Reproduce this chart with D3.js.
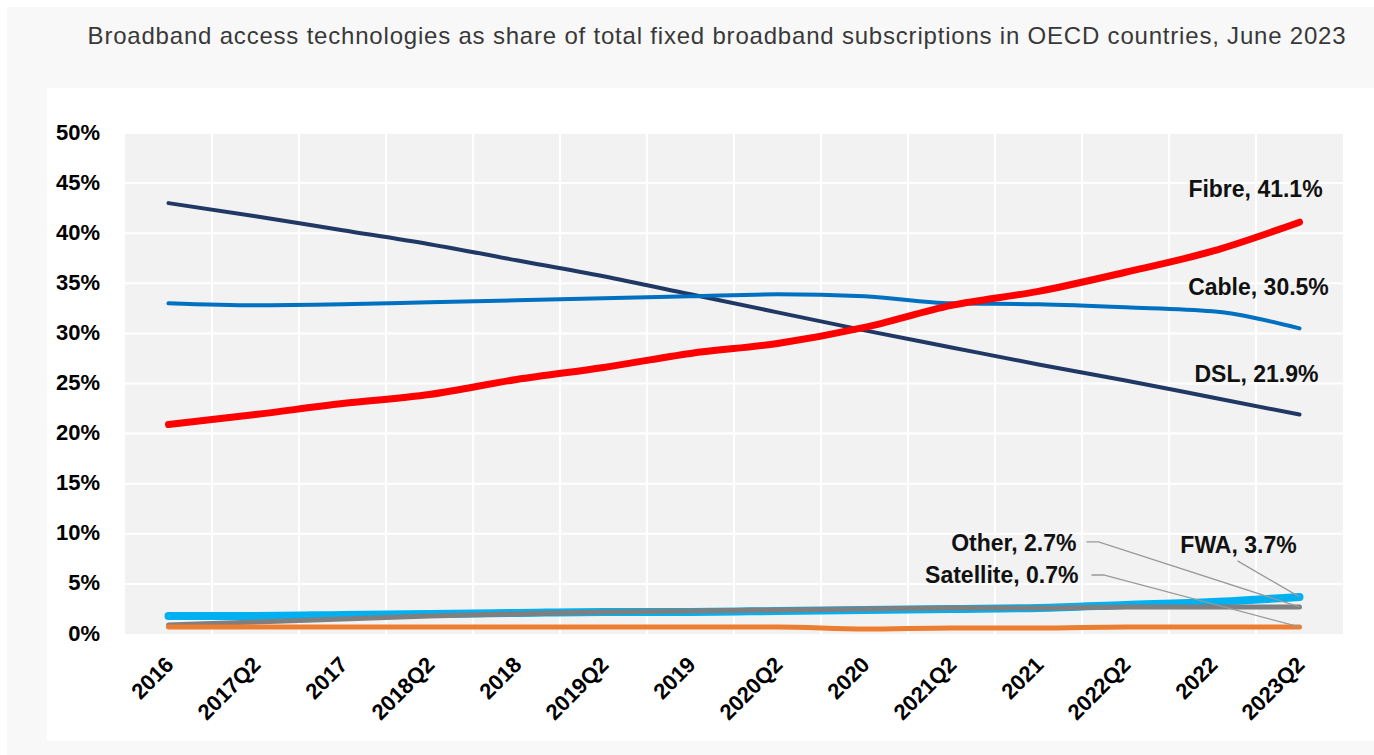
<!DOCTYPE html>
<html lang="en">
  <head>
    <meta charset="UTF-8" />
    <title>Broadband access technologies</title>
    <script src="https://cdn.jsdelivr.net/npm/d3@7"></script>
    <style>
      html, body { margin: 0; padding: 0; background: #fff; }
      #svgBox { display: block; }
    </style>
  </head>
  <body>
    <svg id="svgBox" width="1374" height="755"></svg>
  </body>
  <script>
    const categories = ['2016', '2017Q2', '2017', '2018Q2', '2018', '2019Q2', '2019',
      '2020Q2', '2020', '2021Q2', '2021', '2022Q2', '2022', '2023Q2']
    const dsl = [43.0, 41.7, 40.3, 38.9, 37.3, 35.7, 33.9, 32.1, 30.3, 28.6, 26.9, 25.3, 23.6, 21.9]
    const cable = [33.0, 32.8, 32.9, 33.1, 33.3, 33.5, 33.7, 33.9, 33.7, 33.0, 32.9, 32.6, 32.2, 30.5]
    const fibre = [20.9, 21.9, 23.0, 23.9, 25.4, 26.6, 28.0, 29.0, 30.6, 32.8, 34.2, 36.1, 38.2, 41.1]
    const fwa = [1.8, 1.8, 1.9, 2.0, 2.1, 2.2, 2.2, 2.3, 2.4, 2.5, 2.6, 2.9, 3.2, 3.7]
    const other = [0.9, 1.2, 1.5, 1.8, 2.0, 2.2, 2.3, 2.4, 2.5, 2.6, 2.6, 2.7, 2.7, 2.7]
    const satellite = [0.7, 0.7, 0.7, 0.7, 0.7, 0.7, 0.7, 0.7, 0.5, 0.6, 0.6, 0.7, 0.7, 0.7]
    const yTicks = [0, 5, 10, 15, 20, 25, 30, 35, 40, 45, 50]

    const series = [
      { name: 'DSL', values: dsl, color: '#203864', width: 4 },
      { name: 'Cable', values: cable, color: '#0070c0', width: 4 },
      { name: 'FWA', values: fwa, color: '#00b0f0', width: 8 },
      { name: 'Other', values: other, color: '#7f7f7f', width: 5 },
      { name: 'Satellite', values: satellite, color: '#ed7d31', width: 5 },
      { name: 'Fibre', values: fibre, color: '#ff0000', width: 7 }
    ]

    const svg = d3.select('#svgBox')
    const font = "'Liberation Sans', Arial, sans-serif"
    const margin = { top: 133, right: 31, bottom: 121, left: 125 }
    const [width, height] = [1374, 755]
    const innerWidth = width - margin.left - margin.right
    const innerHeight = height - margin.top - margin.bottom

    // backgrounds
    svg.append('rect').attr('x', 7).attr('y', 7).attr('width', width - 7).attr('height', height - 7)
      .attr('fill', '#f8f8f8')
    svg.append('rect').attr('x', 47).attr('y', 88).attr('width', width - 47).attr('height', 653)
      .attr('fill', '#fff')

    svg.append('text')
      .attr('x', 717).attr('y', 44)
      .attr('text-anchor', 'middle')
      .attr('font-family', font).attr('font-size', 24).attr('letter-spacing', 0.8)
      .attr('fill', '#383838')
      .text('Broadband access technologies as share of total fixed broadband subscriptions in OECD countries, June 2023')

    const xScale = d3.scalePoint().domain(categories).range([0, innerWidth]).padding(0.5)
    const yScale = d3.scaleLinear().domain([0, 50]).range([innerHeight, 0])

    const g = svg.append('g').attr('transform', `translate(${margin.left} ${margin.top})`)

    g.append('rect').attr('width', innerWidth).attr('height', innerHeight).attr('fill', '#f2f2f2')

    // grid
    g.append('g').selectAll('line').data(yTicks.slice(1)).join('line')
      .attr('x1', 0).attr('x2', innerWidth)
      .attr('y1', d => yScale(d)).attr('y2', d => yScale(d))
      .attr('stroke', '#fff').attr('stroke-width', 2)
    g.append('g').selectAll('line').data(categories.slice(1)).join('line')
      .attr('x1', d => xScale(d) - xScale.step() / 2).attr('x2', d => xScale(d) - xScale.step() / 2)
      .attr('y1', 0).attr('y2', innerHeight)
      .attr('stroke', '#fff').attr('stroke-width', 2)

    // y axis
    const yAxis = d3.axisLeft(yScale).tickValues(yTicks).tickSize(0).tickPadding(25)
      .tickFormat(d => d + '%')
    g.append('g').call(yAxis)
      .attr('font-family', font).attr('font-size', 22).attr('font-weight', 'bold')
      .call(s => s.select('.domain').remove())
      .call(s => s.selectAll('.tick line').remove())
      .selectAll('text')
      .attr('dy', 6)
      .attr('fill', '#000')

    // x axis
    const xAxis = d3.axisBottom(xScale).tickSize(0)
    g.append('g').attr('transform', `translate(0 ${innerHeight})`).call(xAxis)
      .attr('font-family', font).attr('font-size', 22).attr('font-weight', 'bold')
      .call(s => s.select('.domain').remove())
      .call(s => s.selectAll('.tick line').remove())
      .selectAll('text')
      .attr('text-anchor', 'end')
      .attr('transform', 'translate(6 32) rotate(-45)')
      .attr('y', 0).attr('dy', 0)
      .attr('fill', '#000')

    // lines
    const line = d3.line()
      .x((d, i) => xScale(categories[i]))
      .y(d => yScale(d))
      .curve(d3.curveMonotoneX)
    g.append('g').selectAll('path').data(series).join('path')
      .attr('d', d => line(d.values))
      .attr('fill', 'none')
      .attr('stroke', d => d.color)
      .attr('stroke-width', d => d.width)
      .attr('stroke-linecap', 'round')
      .attr('stroke-linejoin', 'round')

    // end labels
    const last = categories[categories.length - 1]
    const xEnd = xScale(last)
    const byName = {}
    series.forEach(s => (byName[s.name] = s))
    const fmt = s => `${s.name}, ${s.values[s.values.length - 1].toFixed(1)}%`
    const labels = [
      { name: 'Fibre', x: xEnd - 44, y: yScale(41.1) - 25, anchor: 'middle' },
      { name: 'Cable', x: xEnd - 41, y: yScale(30.5) - 33, anchor: 'middle' },
      { name: 'DSL', x: xEnd - 43, y: yScale(21.9) - 33, anchor: 'middle' },
      { name: 'FWA', x: xEnd - 61, y: yScale(3.7) - 44, anchor: 'middle', leader: [xEnd - 62, yScale(3.7) - 36] },
      { name: 'Other', x: xEnd - 223, y: yScale(2.7) - 56, anchor: 'end', leader: [xEnd - 213, yScale(2.7) - 65] },
      { name: 'Satellite', x: xEnd - 221, y: yScale(0.7) - 44, anchor: 'end', leader: [xEnd - 208, yScale(0.7) - 52] }
    ]
    const lg = g.append('g')
    labels.filter(d => d.leader).forEach(d => {
      const s = byName[d.name]
      const v = s.values[s.values.length - 1]
      const pts = d.anchor === 'end'
        ? [d.leader, [d.leader[0] + 12, d.leader[1]], [xEnd, yScale(v)]]
        : [d.leader, [xEnd, yScale(v)]]
      lg.append('path')
        .attr('d', d3.line()(pts))
        .attr('fill', 'none').attr('stroke', '#999').attr('stroke-width', 1.3)
    })
    lg.selectAll('text').data(labels).join('text')
      .attr('x', d => d.x).attr('y', d => d.y)
      .attr('text-anchor', d => d.anchor)
      .attr('font-family', font).attr('font-size', 23).attr('font-weight', 'bold').attr('fill', '#111')
      .text(d => fmt(byName[d.name]))
  </script>
</html>
